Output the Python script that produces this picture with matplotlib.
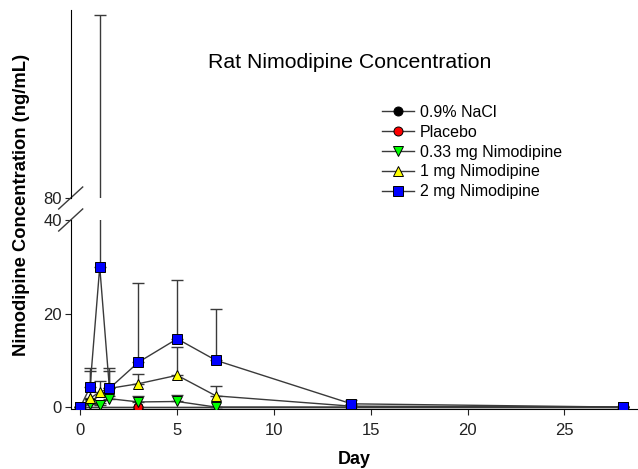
import numpy as np
import matplotlib
matplotlib.use("Agg")
import matplotlib.pyplot as plt

plt.rcParams['font.family'] = ['Liberation Sans', 'DejaVu Sans']

# values (ng/mL), errors are upper SD
days = [0, 0.5, 1, 1.5, 3, 5, 7, 14, 28]
ctrl_days = [0, 3, 14, 28]

nacl = [0, 0, 0, 0]
placebo = [0, 0, 0, 0]

nimo_033 = [0, 0.6, 0.5, 1.8, 1.1, 1.2, 0, 0, 0]
nimo_033_err = [0, 0.3, 0.4, 0.6, 1.2, 1.3, 0, 0, 0]

nimo_1 = [0, 1.9, 3.2, 4.0, 5.0, 6.8, 2.4, 0.2, 0]
nimo_1_err = [0, 5.8, 2.4, 3.7, 2.0, 6.0, 2.1, 0.2, 0]

nimo_2 = [0, 4.3, 30.0, 4.0, 9.6, 14.6, 10.0, 0.7, 0]
nimo_2_err = [0, 4.0, 89.0, 4.3, 17.0, 12.5, 11.0, 0.8, 0.3]

series = [
    ("0.9% NaCl", ctrl_days, nacl, None, 'o', 'black'),
    ("Placebo", ctrl_days, placebo, None, 'o', 'red'),
    ("0.33 mg Nimodipine", days, nimo_033, nimo_033_err, 'v', '#00ff00'),
    ("1 mg Nimodipine", days, nimo_1, nimo_1_err, '^', '#ffff00'),
    ("2 mg Nimodipine", days, nimo_2, nimo_2_err, 's', '#0000ff'),
]

fig = plt.figure(figsize=(6.38, 4.69), dpi=100)
W, H = 638.0, 469.0
left = 70.7 / W
width = 1 - left
ax_bot = fig.add_axes([left, (H - 408.5) / H, width, 188.5 / H])
ax_top = fig.add_axes([left, (H - 198) / H, width, 188 / H])

line_col = '#3a3a3a'
for ax in (ax_bot, ax_top):
    for label, x, y, err, mk, col in series:
        if err is not None:
            ax.errorbar(x, y, yerr=[np.zeros(len(err)), err], fmt='none',
                        ecolor=line_col, elinewidth=1.0, capsize=4,
                        capthick=1.0, zorder=1)
        ax.plot(x, y, color=line_col, lw=1.0, marker=mk, markersize=6.5,
                markerfacecolor=col, markeredgecolor='black',
                markeredgewidth=0.7, label=label, zorder=3)
    ax.set_xlim(-0.5, 28.8)
    ax.spines['top'].set_visible(False)
    ax.spines['right'].set_visible(False)
    ax.tick_params(direction='out', length=4, width=0.8, labelsize=12,
                   colors='#222222')

ax_bot.set_ylim(-0.3, 40)
ax_bot.set_yticks([0, 20, 40])
ax_bot.set_xticks([0, 5, 10, 15, 20, 25])
ax_bot.tick_params(axis='x', pad=6.5)
ax_bot.tick_params(axis='y', pad=2.5)
ax_bot.set_xlabel("Day", fontsize=13, fontweight='bold', labelpad=9)

ax_top.set_ylim(80, 120)
ax_top.set_yticks([80])
ax_top.tick_params(axis='y', pad=2.5)
ax_top.spines['bottom'].set_visible(False)
ax_top.tick_params(axis='x', bottom=False, labelbottom=False)
ax_top.patch.set_visible(False)

# break marks on the y axis
dx = 12 / (width * W)
dy = 11 / 188.0
kw = dict(color=line_col, lw=1.0, clip_on=False)
ax_bot.plot([-dx, dx], [1 - dy, 1 + dy], transform=ax_bot.transAxes, **kw)
ax_top.plot([-dx, dx], [-dy, dy], transform=ax_top.transAxes, **kw)

fig.text(22 / W, 1 - 205 / H, "Nimodipine Concentration (ng/mL)", rotation=90,
         ha='center', va='center', fontsize=13.2, fontweight='bold')
fig.text(350 / W, 1 - 62 / H, "Rat Nimodipine Concentration", ha='center',
         va='center', fontsize=15.3)

handles, labels = ax_top.get_legend_handles_labels()
fig.legend(handles, labels, loc='upper left', bbox_to_anchor=(382 / W, 1 - 105 / H),
           frameon=False, fontsize=11.5, handlelength=2.0, handletextpad=0.35,
           labelspacing=0.3, borderpad=0, borderaxespad=0)

fig.savefig("out.png", dpi=100)
